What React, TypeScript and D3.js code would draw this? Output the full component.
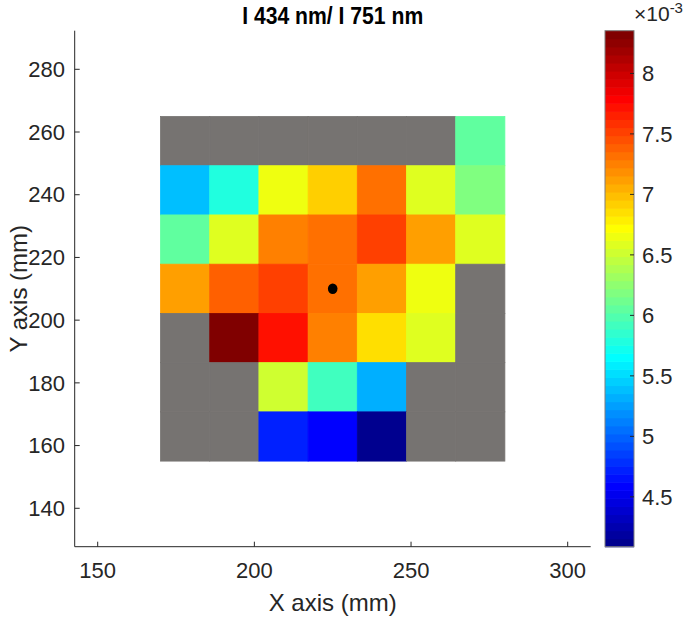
import React from "react";
import * as d3 from "d3";

// ---- data ----
const xCenters = [177.9, 193.6, 209.3, 225.0, 240.7, 256.4, 272.1];
const yCenters = [257.1, 241.4, 225.7, 210.0, 194.3, 178.6, 162.9];
const cellSize = 15.7;
// values ×1e-3, rows top → bottom, null = no data (gray)
const row1 = [null, null, null, null, null, null, 6.04];
const row2 = [5.42, 5.82, 6.68, 6.89, 7.29, 6.56, 6.22];
const row3 = [6.04, 6.56, 7.23, 7.29, 7.49, 7.09, 6.62];
const row4 = [7.09, 7.42, 7.49, 7.35, 7.15, 6.68, null];
const row5 = [null, 8.35, 7.69, 7.23, 6.83, 6.56, null];
const row6 = [null, null, 6.49, 5.95, 5.35, null, null];
const row7 = [null, null, 4.75, 4.62, 4.1, null, null];
const rows: (number | null)[][] = [row1, row2, row3, row4, row5, row6, row7];
const marker = { x: 225, y: 210 };
const xTicks = [150, 200, 250, 300];
const yTicks = [140, 160, 180, 200, 220, 240, 260, 280];
const cTicks = [4.5, 5, 5.5, 6, 6.5, 7, 7.5, 8];
const cLim = [4.088, 8.353];
const xDomain = [142.66, 307.34];
const yDomain = [127.75, 292.31];

// MATLAB jet(64)
function jetMap(n: number): string[] {
  const m = Math.ceil(n / 4);
  const u: number[] = [];
  for (let i = 1; i <= m; i++) u.push(i / m);
  for (let i = 1; i < m; i++) u.push(1);
  for (let i = m; i >= 1; i--) u.push(i / m);
  const J = Array.from({ length: n }, () => [0, 0, 0]);
  const g0 = Math.ceil(m / 2) - (n % 4 === 1 ? 1 : 0);
  const g = u.map((_, i) => g0 + i + 1);
  const r = g.map((v) => v + m);
  const b = g.map((v) => v - m);
  const rr = r.filter((v) => v <= n);
  rr.forEach((v, i) => (J[v - 1][0] = u[i]));
  const gg = g.filter((v) => v <= n);
  gg.forEach((v, i) => (J[v - 1][1] = u[i]));
  const bb = b.filter((v) => v >= 1);
  bb.forEach((v, i) => (J[v - 1][2] = u[u.length - bb.length + i]));
  return J.map((c) => d3.rgb(c[0] * 255, c[1] * 255, c[2] * 255).formatHex());
}
const jet = jetMap(64);
const colorOf = (v: number) => {
  let idx = Math.floor(((v - cLim[0]) / (cLim[1] - cLim[0])) * 64);
  idx = Math.max(0, Math.min(63, idx));
  return jet[idx];
};

const W = 685, H = 617;
const L = 74.7, R = 590.7, T = 30.7, B = 546.7;
const cbL = 605, cbR = 634;
const axisColor = "#262626";
const font = "'Liberation Sans', Arial, Helvetica, sans-serif";
const gray = "#767371";

export default function App() {
  const x = d3.scaleLinear().domain(xDomain).range([L, R]);
  const y = d3.scaleLinear().domain(yDomain).range([B, T]);
  const c = d3.scaleLinear().domain(cLim).range([B, T]);

  const cells: React.ReactNode[] = [];
  rows.forEach((row, j) =>
    row.forEach((v, i) => {
      const x0 = x(xCenters[i] - cellSize / 2);
      const x1 = x(xCenters[i] + cellSize / 2);
      const y0 = y(yCenters[j] + cellSize / 2);
      const y1 = y(yCenters[j] - cellSize / 2);
      const fill = v === null ? gray : colorOf(v);
      cells.push(
        <rect key={`${i}-${j}`} x={x0} y={y0} width={x1 - x0} height={y1 - y0}
          fill={fill} stroke={fill} strokeWidth={0.8} />
      );
    })
  );

  const bands = jet.map((col, k) => {
    const v0 = cLim[0] + ((cLim[1] - cLim[0]) * k) / 64;
    const v1 = cLim[0] + ((cLim[1] - cLim[0]) * (k + 1)) / 64;
    return <rect key={k} x={cbL} y={c(v1)} width={cbR - cbL} height={c(v0) - c(v1) + 0.6} fill={col} />;
  });

  return (
    <svg width={W} height={H} style={{ position: "absolute", left: 0, top: 0, background: "#fff" }}
      fontFamily={font}>
      <rect x={0} y={0} width={W} height={H} fill="#fff" />
      {cells}
      <ellipse cx={x(marker.x)} cy={y(marker.y)} rx={4.8} ry={5.3} fill="#000" />
      {/* axes */}
      <line x1={L} x2={R} y1={B} y2={B} stroke={axisColor} strokeWidth={1} />
      <line x1={L} x2={L} y1={T} y2={B} stroke={axisColor} strokeWidth={1} />
      {xTicks.map((t) => (
        <g key={t}>
          <line x1={x(t)} x2={x(t)} y1={B} y2={B - 5} stroke={axisColor} />
          <text x={x(t)} y={578} fontSize={22} textAnchor="middle" fill={axisColor}>{t}</text>
        </g>
      ))}
      {yTicks.map((t) => (
        <g key={t}>
          <line x1={L} x2={L + 5} y1={y(t)} y2={y(t)} stroke={axisColor} />
          <text x={65} y={y(t)} dy="0.35em" fontSize={22} textAnchor="end" fill={axisColor}>{t}</text>
        </g>
      ))}
      <text x={(L + R) / 2} y={611} fontSize={24} textAnchor="middle" fill={axisColor}>X axis (mm)</text>
      <text transform={`translate(27,${(T + B) / 2}) rotate(-90)`} fontSize={24} textAnchor="middle" fill={axisColor}>Y axis (mm)</text>
      <text x={(L + R) / 2} y={24} fontSize={23} fontWeight="bold" textAnchor="middle" fill="#000"
        textLength={181} lengthAdjust="spacingAndGlyphs">I 434 nm/ I 751 nm</text>
      {/* colorbar */}
      {bands}
      <rect x={cbL} y={T} width={cbR - cbL} height={B - T} fill="none" stroke="#7f7f7f" strokeWidth={1} />
      {cTicks.map((t) => (
        <g key={t}>
          <line x1={cbR} x2={cbR - 4} y1={c(t)} y2={c(t)} stroke={axisColor} />
          <text x={642} y={c(t)} dy="0.35em" fontSize={22} fill={axisColor}>{t}</text>
        </g>
      ))}
      <text x={634} y={21} fontSize={21} fill={axisColor}>
        ×10<tspan dy={-8} fontSize={15}>-3</tspan>
      </text>
    </svg>
  );
}
